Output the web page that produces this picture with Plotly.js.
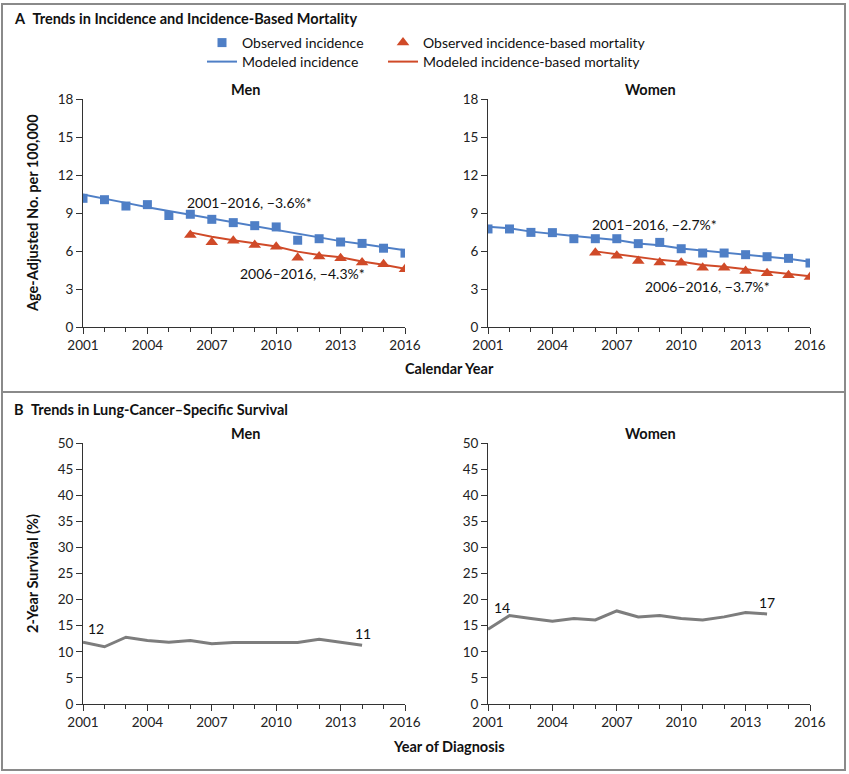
<!DOCTYPE html>
<html>
<head>
<meta charset="utf-8">
<script src="https://cdn.plot.ly/plotly-3.0.1.min.js"></script>
<style>html,body{margin:0;padding:0;background:#fff;}#chart{width:849px;height:774px;}</style>
</head>
<body>
<div id="chart"></div>
<script>
// ---------- data ----------
var years = [2001,2002,2003,2004,2005,2006,2007,2008,2009,2010,2011,2012,2013,2014,2015,2016];
var mortYears = [2006,2007,2008,2009,2010,2011,2012,2013,2014,2015,2016];
var survYears = [2001,2002,2003,2004,2005,2006,2007,2008,2009,2010,2011,2012,2013,2014];

var menObsInc   = [10.16,10.05,9.55,9.66,8.8,8.9,8.5,8.24,8.0,7.9,6.85,6.97,6.71,6.6,6.22,5.83];
var menModInc   = [10.47,10.15,9.8,9.45,9.15,8.85,8.55,8.25,7.98,7.7,7.35,7.06,6.78,6.55,6.3,6.05];
var menObsMort  = [7.26,6.7,6.8,6.48,6.34,5.46,5.56,5.43,5.09,4.95,4.56];
var menModMort  = [7.47,7.12,6.85,6.6,6.36,5.95,5.68,5.5,5.18,4.92,4.6];

var womObsInc   = [7.74,7.74,7.47,7.45,6.97,6.97,6.97,6.58,6.68,6.18,5.84,5.84,5.71,5.55,5.42,5.05];
var womModInc   = [7.92,7.8,7.53,7.34,7.18,7.03,6.87,6.6,6.45,6.2,6.03,5.87,5.71,5.55,5.39,5.16];
var womObsMort  = [5.87,5.63,5.21,5.1,5.08,4.68,4.68,4.42,4.24,4.08,3.95];
var womModMort  = [5.97,5.75,5.5,5.3,5.15,4.9,4.75,4.55,4.4,4.2,4.0];

var menSurv = [11.85,10.96,12.8,12.17,11.85,12.17,11.53,11.78,11.78,11.78,11.78,12.42,11.85,11.27];
var womSurv = [14.33,16.94,16.37,15.86,16.37,16.11,17.83,16.69,16.94,16.37,16.11,16.69,17.52,17.26];

var seriesNames = ["Observed incidence","Observed incidence-based mortality","Modeled incidence","Modeled incidence-based mortality"];
var trendLabels = {men:["2001\u20132016, \u22123.6%*","2006\u20132016, \u22124.3%*"], women:["2001\u20132016, \u22122.7%*","2006\u20132016, \u22123.7%*"]};
var survLabels = {men:["12","11"], women:["14","17"]};
var panelTitles = ["Trends in Incidence and Incidence-Based Mortality","Trends in Lung-Cancer\u2013Specific Survival"];

// ---------- styling ----------
var BLUE = "#4f7fc6", RED = "#d04a28", GRAY = "#7d7d7d", AX = "#333333";
var FONT = "Lato, 'Open Sans', sans-serif";
var W = 849, H = 774;
function px(x){return x/W;}
function py(y){return 1 - y/H;}

var traces = [];
function addIncidence(xa, ya, obsInc, modInc, obsMort, modMort, show){
  traces.push({x:years, y:modInc, xaxis:xa, yaxis:ya, type:"scatter", mode:"lines",
    line:{color:BLUE,width:2}, name:seriesNames[2], legend:"legend3", showlegend:show, hoverinfo:"skip"});
  traces.push({x:mortYears, y:modMort, xaxis:xa, yaxis:ya, type:"scatter", mode:"lines",
    line:{color:RED,width:2}, name:seriesNames[3], legend:"legend4", showlegend:show, hoverinfo:"skip"});
  traces.push({x:years, y:obsInc, xaxis:xa, yaxis:ya, type:"scatter", mode:"markers",
    marker:{symbol:"square",size:9,color:BLUE}, name:seriesNames[0], legend:"legend", showlegend:show});
  traces.push({x:mortYears, y:obsMort, xaxis:xa, yaxis:ya, type:"scatter", mode:"markers",
    marker:{symbol:"triangle-up",size:11,color:RED}, name:seriesNames[1], legend:"legend2", showlegend:show});
}
addIncidence("x","y",menObsInc,menModInc,menObsMort,menModMort,true);
addIncidence("x2","y2",womObsInc,womModInc,womObsMort,womModMort,false);
traces.push({x:survYears, y:menSurv, xaxis:"x3", yaxis:"y3", type:"scatter", mode:"lines",
  line:{color:GRAY,width:3}, showlegend:false});
traces.push({x:survYears, y:womSurv, xaxis:"x4", yaxis:"y4", type:"scatter", mode:"lines",
  line:{color:GRAY,width:3}, showlegend:false});

var xMen = [px(83), px(405)], xWom = [px(488), px(810)];
var yA = [py(327), py(99)], yB = [py(704), py(443)];

function xax(dom, anchor){
  return {domain:dom, anchor:anchor, range:[2001,2016], dtick:3, tick0:2001, ticks:"outside", ticklen:6,
    tickcolor:AX, tickwidth:1, showline:true, linecolor:AX, linewidth:1, showgrid:false, zeroline:false,
    tickfont:{family:FONT,size:13.5,color:"#222"},
    minor:{dtick:1, tick0:2001, ticks:"outside", ticklen:4, tickcolor:AX, showgrid:false}};
}
function yax(dom, anchor, max, dt){
  return {domain:dom, anchor:anchor, range:[0,max], dtick:dt, ticks:"outside", ticklen:6,
    tickcolor:AX, tickwidth:1, showline:true, linecolor:AX, linewidth:1, showgrid:false, zeroline:false,
    tickfont:{family:FONT,size:13.5,color:"#222"}};
}

var ann = [];
var TF = {family:FONT,size:14.5,color:"#111"};
function txt(x,y,t,opts){
  var a = {xref:"paper", yref:"paper", x:x, y:y, text:t, showarrow:false,
    font:TF, xanchor:"center", yanchor:"middle"};
  for (var k in opts) a[k]=opts[k];
  ann.push(a);
}
txt(px(12), py(19), "<b>A</b>  <b>"+panelTitles[0]+"</b>", {xanchor:"left"});
txt(px(12), py(409), "<b>B</b>  <b>"+panelTitles[1]+"</b>", {xanchor:"left"});
txt(px(245), py(89), "<b>Men</b>", {});
txt(px(650), py(89), "<b>Women</b>", {});
txt(px(245), py(433), "<b>Men</b>", {});
txt(px(650), py(433), "<b>Women</b>", {});
txt(px(32), py(213), "<b>Age-Adjusted No. per 100,000</b>", {textangle:-90});
txt(px(32), py(573), "<b>2-Year Survival (%)</b>", {textangle:-90});
txt(px(449), py(369), "<b>Calendar Year</b>", {});
txt(px(449), py(746), "<b>Year of Diagnosis</b>", {});

function dataTxt(xr, yr, x, y, t, anchor){
  ann.push({xref:xr, yref:yr, x:x, y:y, text:t, showarrow:false, xanchor:anchor, yanchor:"middle",
    font:{family:FONT,size:14,color:"#111"}});
}
dataTxt("x","y",2005.75,9.8,trendLabels.men[0],"left");
dataTxt("x","y",2008.2,4.26,trendLabels.men[1],"left");
dataTxt("x2","y2",2005.75,8.13,trendLabels.women[0],"left");
dataTxt("x2","y2",2008.2,3.16,trendLabels.women[1],"left");
dataTxt("x3","y3",2001.15,14.4,survLabels.men[0],"left");
dataTxt("x3","y3",2014.05,13.6,survLabels.men[1],"center");
dataTxt("x4","y4",2001.2,18.4,survLabels.women[0],"left");
dataTxt("x4","y4",2014.0,19.5,survLabels.women[1],"center");

var shapes = [
  {type:"rect", xref:"paper", yref:"paper", x0:px(2), x1:px(845), y0:py(392), y1:py(4), line:{color:"#8a8a8a",width:2}},
  {type:"rect", xref:"paper", yref:"paper", x0:px(2), x1:px(845), y0:py(770), y1:py(392), line:{color:"#8a8a8a",width:2}}
];

function leg(x, y){
  return {x:px(x), y:py(y), xanchor:"left", yanchor:"middle", bgcolor:"rgba(0,0,0,0)",
    font:{family:FONT,size:14,color:"#111"}, itemclick:false, tracegroupgap:0};
}

var layout = {
  width:W, height:H, margin:{l:0,r:0,t:0,b:0}, paper_bgcolor:"#fff", plot_bgcolor:"#fff",
  font:{family:FONT,size:13,color:"#111"},
  xaxis:xax(xMen,"y"), yaxis:yax(yA,"x",18,3),
  xaxis2:xax(xWom,"y2"), yaxis2:yax(yA,"x2",18,3),
  xaxis3:xax(xMen,"y3"), yaxis3:yax(yB,"x3",50,5),
  xaxis4:xax(xWom,"y4"), yaxis4:yax(yB,"x4",50,5),
  legend:leg(202,43), legend2:leg(383,43), legend3:leg(202,62), legend4:leg(383,62),
  annotations:ann, shapes:shapes, showlegend:true
};
Plotly.newPlot("chart", traces, layout, {displayModeBar:false, staticPlot:true});
</script>
</body>
</html>
